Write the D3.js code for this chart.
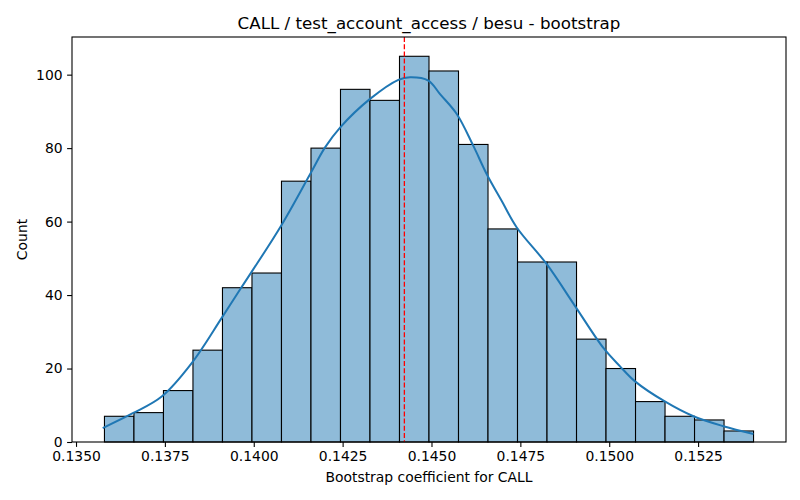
<!DOCTYPE html>
<html>
<head>
<meta charset="utf-8">
<script src="https://cdn.jsdelivr.net/npm/d3@7"></script>
<style>
  body { margin: 0; background: #fff; }
  svg { font-family: "DejaVu Sans", sans-serif; }
</style>
</head>
<body>
<div id="wrapper"></div>
<script>
/*global d3*/

// histogram: first bin edge, bin width and counts (22 bins, 1000 bootstrap draws)
const binStart = 0.13580
const binWidth = 0.00083
const counts = [7, 8, 14, 25, 42, 46, 71, 80, 96, 93, 105, 101, 81, 58, 49, 49, 28, 20, 11, 7, 6, 3]

// kde curve (scaled to counts)
const kdeX = [0.135751, 0.136612, 0.137411, 0.138255, 0.139099, 0.139614, 0.140740,
    0.141584, 0.142006, 0.142428, 0.143272, 0.144068, 0.144397, 0.144912, 0.145241,
    0.145711, 0.146178, 0.146555, 0.146977, 0.147399, 0.148243, 0.149039, 0.149836,
    0.150305, 0.150727, 0.151552, 0.152368, 0.153212, 0.154056]
const kdeY = [3.8, 7.9, 12.4, 21.5, 33.8, 41.5, 58.4,
    72.9, 80.2, 85.6, 93.4, 98.6, 99.3, 98.4, 94.7,
    89.3, 80.6, 72.9, 65.6, 58.4, 48.4, 37.0, 25.6,
    20.6, 16.5, 11.1, 7.0, 4.3, 2.2]

const meanValue = 0.144237
const xTicks = [0.1350, 0.1375, 0.1400, 0.1425, 0.1450, 0.1475, 0.1500, 0.1525]
const yTicks = [0, 20, 40, 60, 80, 100]

const titleText = "CALL / test_account_access / besu - bootstrap"
const xLabelText = "Bootstrap coefficient for CALL"
const yLabelText = "Count"

function drawHist() {

    // 1. dims
    let dims = {
        width: 800,
        height: 500,
        margin: { top: 37, right: 14, bottom: 58, left: 72 }
    }
    dims.boundedWidth = dims.width - dims.margin.left - dims.margin.right
    dims.boundedHeight = dims.height - dims.margin.top - dims.margin.bottom

    // 2. canvas
    const wrapper = d3.select("#wrapper")
        .append("svg")
        .attr("width", dims.width)
        .attr("height", dims.height)

    const bounds = wrapper.append("g")
        .attr("transform", `translate(${dims.margin.left},${dims.margin.top})`)

    // 3. scales (matplotlib-style 5% margin on x)
    const bins = counts.map((c, i) => ({
        x0: binStart + i * binWidth,
        x1: binStart + (i + 1) * binWidth,
        count: c
    }))
    const lo = bins[0].x0
    const hi = bins[bins.length - 1].x1
    const pad = (hi - lo) * 0.05

    const xScale = d3.scaleLinear()
        .domain([lo - pad, hi + pad])
        .range([0, dims.boundedWidth])

    const yScale = d3.scaleLinear()
        .domain([0, d3.max(counts) * 1.05])
        .range([dims.boundedHeight, 0])

    // 4. bars
    bounds.selectAll("rect.bar")
        .data(bins)
        .join("rect")
        .attr("class", "bar")
        .attr("x", d => xScale(d.x0))
        .attr("y", d => yScale(d.count))
        .attr("width", d => xScale(d.x1) - xScale(d.x0))
        .attr("height", d => yScale(0) - yScale(d.count))
        .attr("fill", "#8fbbd9")
        .attr("stroke", "#000")
        .attr("stroke-width", 1.1)

    // kde line
    const kdePoints = kdeX.map((x, i) => [x, kdeY[i]])
    const line = d3.line()
        .x(d => xScale(d[0]))
        .y(d => yScale(d[1]))
        .curve(d3.curveCatmullRom)

    bounds.append("path")
        .datum(kdePoints)
        .attr("d", line)
        .attr("fill", "none")
        .attr("stroke", "#1f77b4")
        .attr("stroke-width", 2)

    // mean line
    bounds.append("line")
        .attr("x1", xScale(meanValue))
        .attr("x2", xScale(meanValue))
        .attr("y1", 0)
        .attr("y2", dims.boundedHeight)
        .attr("stroke", "red")
        .attr("stroke-width", 1.3)
        .attr("stroke-dasharray", "5,2.2")

    // 5. axes
    const xAxisGenerator = d3.axisBottom(xScale)
        .tickValues(xTicks)
        .tickFormat(d3.format(".4f"))
        .tickSizeOuter(0)
        .tickSize(4.9)
        .tickPadding(4.5)

    const xAxis = bounds.append("g")
        .attr("transform", `translate(0,${dims.boundedHeight})`)
        .call(xAxisGenerator)

    const yAxisGenerator = d3.axisLeft(yScale)
        .tickValues(yTicks)
        .tickSizeOuter(0)
        .tickSize(4.9)
        .tickPadding(4.5)

    const yAxis = bounds.append("g")
        .call(yAxisGenerator)

    ;[xAxis, yAxis].forEach(ax => {
        ax.select(".domain").remove()
        ax.selectAll(".tick line").attr("stroke", "#000").attr("stroke-width", 1.1)
        ax.selectAll(".tick text")
            .attr("fill", "#000")
            .style("font-size", "13.9px")
            .style("font-family", "DejaVu Sans")
    })

    // frame
    bounds.append("rect")
        .attr("width", dims.boundedWidth)
        .attr("height", dims.boundedHeight)
        .attr("fill", "none")
        .attr("stroke", "#000")
        .attr("stroke-width", 1.1)

    // labels
    wrapper.append("text")
        .attr("x", dims.margin.left + dims.boundedWidth / 2)
        .attr("y", 29)
        .attr("text-anchor", "middle")
        .style("font-size", "16.7px")
        .text(titleText)

    wrapper.append("text")
        .attr("x", dims.margin.left + dims.boundedWidth / 2)
        .attr("y", 482)
        .attr("text-anchor", "middle")
        .style("font-size", "13.9px")
        .text(xLabelText)

    wrapper.append("text")
        .attr("transform", `translate(27,${dims.margin.top + dims.boundedHeight / 2}) rotate(-90)`)
        .attr("text-anchor", "middle")
        .style("font-size", "13.9px")
        .text(yLabelText)
}

drawHist()
</script>
</body>
</html>
